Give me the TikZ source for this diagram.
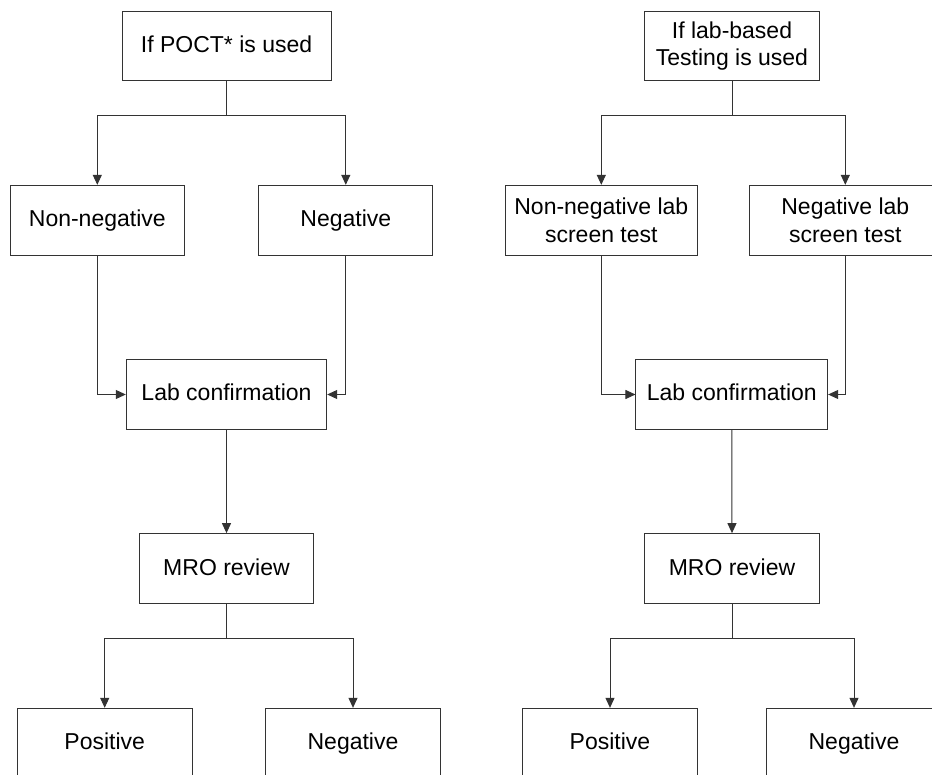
\documentclass[tikz,border=0pt]{standalone}
\usepackage{fontspec}
\setmainfont{Liberation Sans}
\usetikzlibrary{arrows.meta}
\begin{document}
\begin{tikzpicture}[x=1pt,y=-1pt,
  box/.style={draw=black!80, line width=1pt, inner sep=0pt, minimum height=69.7pt,
    align=center, font=\fontsize{23}{27.5}\selectfont},
  one/.style={text height=16.5pt, text depth=3.5pt},
  conn/.style={draw=black!80, line width=1pt},
  arr/.style={conn, -{Triangle[length=10pt,width=9pt]}}]
\useasboundingbox (0,0) rectangle (932,775);
\clip (0,0) rectangle (932,775);
% left column
\node[box, one, minimum width=209pt] (ltop) at (226.5,46) {If POCT* is used};
\node[box, one, minimum width=174pt] (lnn) at (97.3,220.2) {Non-negative};
\node[box, one, minimum width=174.3pt] (lneg) at (345.8,220.2) {Negative};
\node[box, one, minimum width=200.4pt] (llab) at (226.5,394.5) {Lab confirmation};
\node[box, one, minimum width=174.4pt] (lmro) at (226.5,568.5) {MRO review};
\node[box, one, minimum width=174.7pt] (lpos) at (104.7,743.2) {Positive};
\node[box, one, minimum width=174.6pt] (lneg2) at (353,743.2) {Negative};
\coordinate (lj1) at (226.5,115.7);
\coordinate (lj2) at (226.5,638.3);
\draw[conn] (ltop.south) -- (lj1);
\draw[arr] (lj1) -| (lnn.north);
\draw[arr] (lj1) -| (lneg.north);
\draw[arr] (lnn.south) |- (llab.west);
\draw[arr] (lneg.south) |- (llab.east);
\draw[arr] (llab.south) -- (lmro.north);
\draw[conn] (lmro.south) -- (lj2);
\draw[arr] (lj2) -| (lpos.north);
\draw[arr] (lj2) -| (lneg2.north);
% right column
\node[box, minimum width=174.6pt] (rtop) at (732,46) {If lab-based\\Testing is used};
\node[box, minimum width=192pt] (rnn) at (601.3,220.2) {Non-negative lab\\screen test};
\node[box, minimum width=192pt] (rneg) at (845.3,220.2) {Negative lab\\screen test};
\node[box, one, minimum width=191.7pt] (rlab) at (731.8,394.5) {Lab confirmation};
\node[box, one, minimum width=174.6pt] (rmro) at (732,568.5) {MRO review};
\node[box, one, minimum width=174.6pt] (rpos) at (610,743.2) {Positive};
\node[box, one, minimum width=174.6pt] (rneg2) at (854,743.2) {Negative};
\coordinate (rj1) at (732,115.7);
\coordinate (rj2) at (732,638.3);
\draw[conn] (rtop.south) -- (rj1);
\draw[arr] (rj1) -| (rnn.north);
\draw[arr] (rj1) -| (rneg.north);
\draw[arr] (rnn.south) |- (rlab.west);
\draw[arr] (rneg.south) |- (rlab.east);
\draw[arr] (rlab.south) -- (rmro.north);
\draw[conn] (rmro.south) -- (rj2);
\draw[arr] (rj2) -| (rpos.north);
\draw[arr] (rj2) -| (rneg2.north);
\end{tikzpicture}
\end{document}
